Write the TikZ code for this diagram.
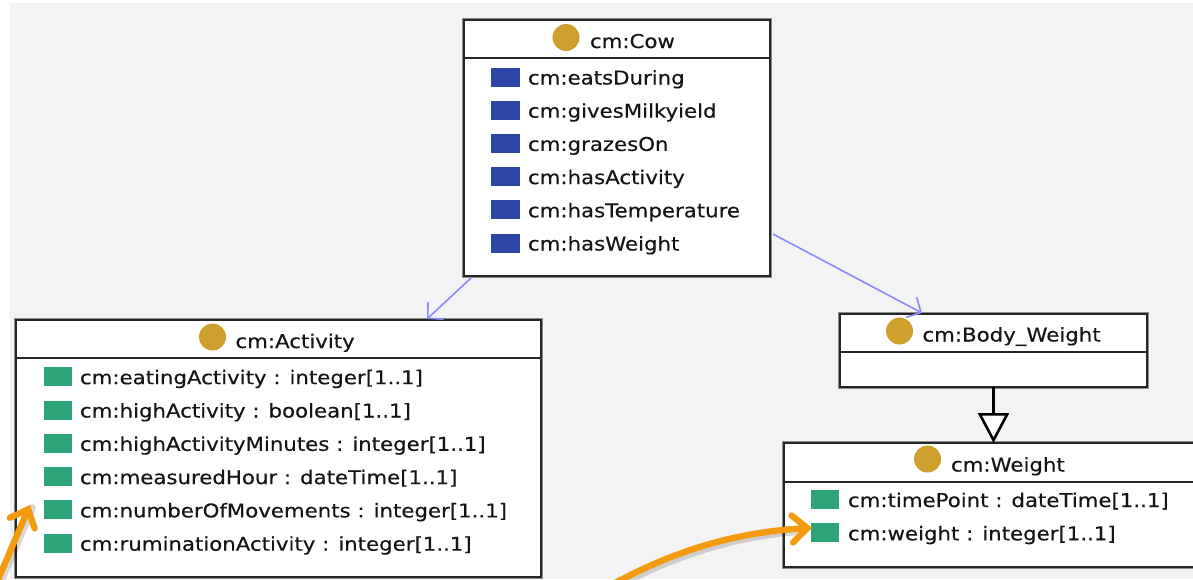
\documentclass[tikz,border=0pt]{standalone}
\usepackage{fontspec}
\setmainfont{DejaVu Sans}[FakeStretch=1.12,FakeBold=0.3]
\usetikzlibrary{arrows.meta}
\definecolor{canvas}{HTML}{F3F3F3}
\definecolor{gold}{HTML}{CD9F2C}
\definecolor{objblue}{HTML}{2C46A8}
\definecolor{datagreen}{HTML}{2CA478}
\definecolor{assocblue}{HTML}{8A8AFF}
\definecolor{hilite}{HTML}{F39A0E}
\begin{document}
\begin{tikzpicture}[x=1pt,y=-1pt,
  every node/.style={inner sep=0pt, outer sep=0pt},
  umlbox/.style={draw=black!85, line width=2pt, fill=white, anchor=north west,
    preaction={draw=black!45, line width=3.6pt}},
  sepline/.style={draw=black!85, line width=2pt},
  classdot/.style={circle, fill=gold, minimum size=27pt},
  title/.style={anchor=base west, font=\fontsize{19}{22}\selectfont, text=black!92},
  objprop/.style={fill=objblue, minimum width=29pt, minimum height=19pt},
  dataprop/.style={fill=datagreen, minimum width=28pt, minimum height=19pt},
  rowtext/.style={anchor=base west, font=\fontsize{19}{22}\selectfont, text=black!92},
  assoc/.style={draw=assocblue, line width=1.6pt, -{Straight Barb[length=11pt,width=23pt]}},
  isa/.style={draw=black, line width=2.6pt, -{Triangle[open,length=30pt,width=31pt,fill=white]}},
  callout/.style={draw=hilite, line width=6.3pt, line cap=round, -{Straight Barb[length=15pt,width=27pt,line cap=round]}},
  calloutshadow/.style={draw=black, opacity=0.15, line width=8pt, line cap=round}
]
\useasboundingbox (0,0) rectangle (1193,579);
\fill[white] (0,0) rectangle (1193,579);
\clip (0,0) rectangle (1193,579);
\fill[canvas] (10,3) rectangle (1193,579);

% ---- cm:Cow ----
\node[umlbox, minimum width=306pt, minimum height=256pt] (cow) at (464,20) {};
\draw[sepline] (464,57.5) -- (770,57.5);
\node[classdot] (cowdot) at (566,37.5) {};
\node[title] (cowname) at (590,48) {cm:Cow};
\foreach \t [count=\i from 0] in {cm:eatsDuring, cm:givesMilkyield, cm:grazesOn, cm:hasActivity, cm:hasTemperature, cm:hasWeight}{
  \node[objprop] (cowp\i) at (505,{77+33.2*\i}) {};
  \node[rowtext] (cowt\i) at (528,{84.5+33.2*\i}) {\t};
}

% ---- cm:Activity ----
\node[umlbox, minimum width=525pt, minimum height=257pt] (act) at (16,320) {};
\draw[sepline] (16,357.5) -- (541,357.5);
\node[classdot] (actdot) at (212.5,337) {};
\node[title] (actname) at (235.5,348) {cm:Activity};
\foreach \t [count=\i from 0] in {{cm:eatingActivity : integer[1..1]}, {cm:highActivity : boolean[1..1]}, {cm:highActivityMinutes : integer[1..1]}, {cm:measuredHour : dateTime[1..1]}, {cm:numberOfMovements : integer[1..1]}, {cm:ruminationActivity : integer[1..1]}}{
  \node[dataprop] (actp\i) at (57.5,{376.7+33.3*\i}) {};
  \node[rowtext] (actt\i) at (80,{384.2+33.3*\i}) {\t};
}

% ---- cm:Body_Weight ----
\node[umlbox, minimum width=307pt, minimum height=73pt] (bw) at (840,314) {};
\draw[sepline] (840,351.5) -- (1147,351.5);
\node[classdot] (bwdot) at (899.5,331) {};
\node[title] (bwname) at (922.5,341.5) {cm:Body\_Weight};

% ---- cm:Weight ----
\node[umlbox, minimum width=412pt, minimum height=124pt] (wt) at (784,443) {};
\draw[sepline] (784,481.5) -- (1196,481.5);
\node[classdot] (wtdot) at (927.5,459) {};
\node[title] (wtname) at (951,471.5) {cm:Weight};
\foreach \t [count=\i from 0] in {{cm:timePoint : dateTime[1..1]}, {cm:weight : integer[1..1]}}{
  \node[dataprop] (wtp\i) at (825,{499.5+33.3*\i}) {};
  \node[rowtext] (wtt\i) at (848,{507+33.3*\i}) {\t};
}

% ---- object property links ----
\draw[assoc] ([xshift=7pt,yshift=-2pt]cow.south west) -- ([xshift=411pt,yshift=1pt]act.north west);
\draw[assoc] ([xshift=3pt,yshift=-214pt]cow.north east) -- ([xshift=82pt,yshift=1pt]bw.north west);

% ---- subclass link ----
\draw[isa] (bw.south) -- (bw.south |- wt.north);

% ---- highlight arrows ----
\coordinate (h1start) at (-3,582);
\coordinate (h1tip) at (30,505);
\coordinate (h2start) at (615,583);
\coordinate (h2tip) at ([xshift=1pt,yshift=5pt]wtp1.west);
\draw[calloutshadow] ([xshift=2pt,yshift=-3pt]h1start) -- ([xshift=2pt,yshift=-3pt]h1tip);
\draw[calloutshadow] ([xshift=2pt,yshift=-3pt]h2start) .. controls (682,551) and (742,535) .. ([xshift=-10pt,yshift=-3pt]h2tip);
\draw[callout] (h1start) -- (h1tip);
\draw[callout] (h2start) .. controls (680,548) and (740,532) .. (h2tip);
\end{tikzpicture}
\end{document}
